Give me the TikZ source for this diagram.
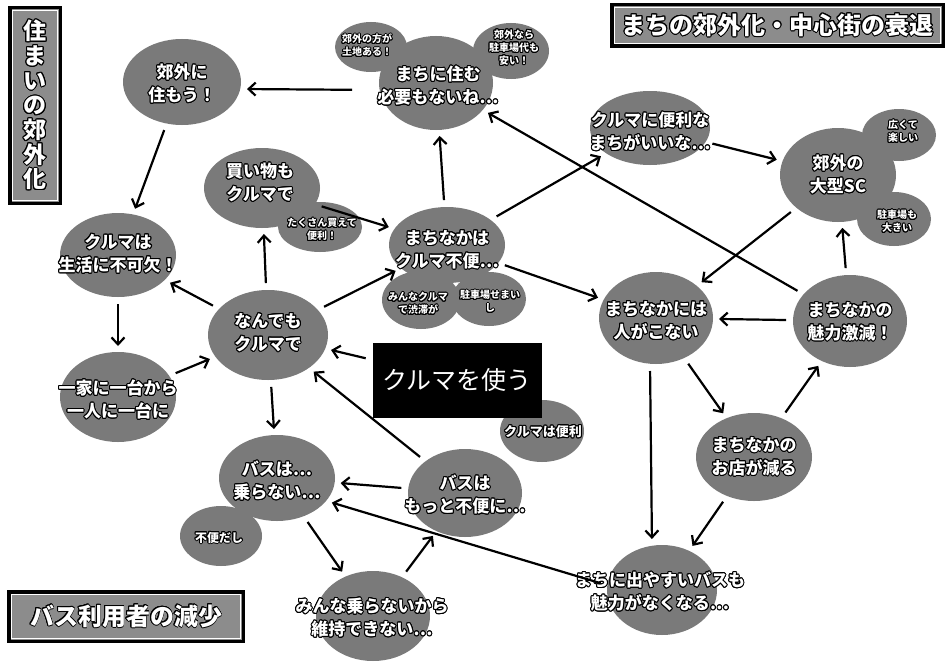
\documentclass[tikz,border=0pt]{standalone}
\usepackage{fontspec}
\setmainfont{Noto Sans CJK JP}
\usepackage{contour}
\contourlength{1pt}
\contournumber{16}
\usetikzlibrary{shapes.geometric,arrows.meta}
\newcommand\wt[1]{\contour{black}{#1}}
\begin{document}
\begin{tikzpicture}[x=1pt,y=-1pt,
  bub/.style={ellipse, fill=black!52, inner sep=0pt, outer sep=0pt},
  txt/.style={text=white, align=center, inner sep=0pt, font=\bfseries\fontsize{17}{23}\selectfont},
  stxt/.style={text=white, align=center, inner sep=0pt, font=\bfseries\fontsize{10}{13}\selectfont},
  ttl/.style={draw=black, line width=3.5pt, fill=black!45, text=white, inner sep=0pt, outer sep=0pt, align=center, font=\bfseries\fontsize{24}{25}\selectfont},
  arr/.style={-{Straight Barb[length=7pt,width=13pt]}, line width=2.2pt, shorten >=6pt, shorten <=7pt}]
\useasboundingbox[fill=white] (0,0) rectangle (947,661);

% bubbles
\node[bub, minimum width=118pt, minimum height=86pt] (e1) at (182,82) {};
\node[bub, minimum width=114pt, minimum height=94pt] (e2) at (436,83) {};
\node[bub, minimum width=72pt, minimum height=50pt] (e2a) at (371,47) {};
\node[bub, minimum width=76pt, minimum height=56pt] (e2b) at (511,51) {};
\node[bub, minimum width=116pt, minimum height=80pt] (e3) at (262,188) {};
\node[bub, minimum width=84pt, minimum height=50pt] (e3a) at (320,227) {};
\node[bub, minimum width=116pt, minimum height=76pt] (e4) at (447,245) {};
\node[bub, minimum width=78pt, minimum height=58pt] (e4a) at (421,300) {};
\node[bub, minimum width=74pt, minimum height=54pt] (e4b) at (489,299) {};
\node[bub, minimum width=120pt, minimum height=74pt] (e5) at (650,128) {};
\node[bub, minimum width=116pt, minimum height=94pt] (e6) at (838,175) {};
\node[bub, minimum width=74pt, minimum height=52pt] (e6a) at (899,135) {};
\node[bub, minimum width=74pt, minimum height=54pt] (e6b) at (894,219) {};
\node[bub, minimum width=114pt, minimum height=92pt] (e7) at (656,318) {};
\node[bub, minimum width=114pt, minimum height=92pt] (e8) at (850,321) {};
\node[bub, minimum width=116pt, minimum height=88pt] (e9) at (754,457) {};
\node[bub, minimum width=110pt, minimum height=90pt] (e10) at (662,590) {};
\node[bub, minimum width=84pt, minimum height=62pt] (e11) at (542,431) {};
\node[bub, minimum width=120pt, minimum height=90pt] (e12) at (268,335) {};
\node[bub, minimum width=116pt, minimum height=84pt] (e13) at (118,255) {};
\node[bub, minimum width=116pt, minimum height=90pt] (e14) at (118,397) {};
\node[bub, minimum width=116pt, minimum height=86pt] (e15) at (277,478) {};
\node[bub, minimum width=82pt, minimum height=60pt] (e15a) at (221,536) {};
\node[bub, minimum width=114pt, minimum height=88pt] (e16) at (465,493) {};
\node[bub, minimum width=114pt, minimum height=90pt] (e17) at (373,616) {};

% central box
\node[fill=black, text=white, minimum width=169pt, minimum height=75pt, inner sep=0pt, outer sep=0pt,
  font=\fontsize{25}{27}\selectfont] (box) at (457,380) {クルマを使う};

% titles
\node[ttl, minimum width=50.5pt, minimum height=195.5pt, font=\bfseries\fontsize{23}{24.7}\selectfont] (T1) at (35,105.5)
  {\wt{住}\\\wt{ま}\\\wt{い}\\\wt{の}\\\wt{郊}\\\wt{外}\\\wt{化}};
\node[ttl, minimum width=331.5pt, minimum height=41.5pt] (T2) at (777.5,25.5) {\wt{まちの郊外化・中心街の衰退}};
\node[ttl, minimum width=234.5pt, minimum height=49.5pt] (T3) at (126,616.5) {\wt{バス利用者の減少}};
\foreach \t in {T1,T2,T3}
  \draw[white, line width=1pt] ([xshift=2.3pt,yshift=-2.3pt]\t.north west) rectangle ([xshift=-2.3pt,yshift=2.3pt]\t.south east);

% texts
\node[txt] (t1) at (182,84) {\wt{郊外に}\\\wt{住もう！}};
\node[txt] (t2) at (438,86) {\wt{まちに住む}\\\wt{必要もないね…}};
\node[stxt] (t2a) at (367,46) {\wt{郊外の方が}\\\wt{土地ある！}};
\node[stxt] (t2b) at (514,48) {\wt{郊外なら}\\\wt{駐車場代も}\\\wt{安い！}};
\node[txt] (t3) at (260,183) {\wt{買い物も}\\\wt{クルマで}};
\node[stxt] (t3a) at (322,230) {\wt{たくさん買えて}\\\wt{便利！}};
\node[txt] (t4) at (447,250) {\wt{まちなかは}\\\wt{クルマ不便…}};
\node[stxt] (t4a) at (418,304) {\wt{みんなクルマ}\\\wt{で渋滞が}};
\node[stxt] (t4b) at (490,302) {\wt{駐車場せまい}\\\wt{し}};
\node[txt] (t5) at (650,132) {\wt{クルマに便利な}\\\wt{まちがいいな…}};
\node[txt] (t6) at (838,175) {\wt{郊外の}\\\wt{大型SC}};
\node[stxt] (t6a) at (903,132) {\wt{広くて}\\\wt{楽しい}};
\node[stxt] (t6b) at (897,222) {\wt{駐車場も}\\\wt{大きい}};
\node[txt] (t7) at (656,321) {\wt{まちなかには}\\\wt{人がこない}};
\node[txt] (t8) at (850,322) {\wt{まちなかの}\\\wt{魅力激減！}};
\node[txt] (t9) at (754,457) {\wt{まちなかの}\\\wt{お店が減る}};
\node[txt] (t10) at (660,592) {\wt{まちに出やすいバスも}\\\wt{魅力がなくなる…}};
\node[stxt, font=\bfseries\fontsize{13}{15}\selectfont] (t11) at (543,432) {\wt{クルマは便利}};
\node[txt] (t12) at (268,333) {\wt{なんでも}\\\wt{クルマで}};
\node[txt] (t13) at (118,254) {\wt{クルマは}\\\wt{生活に不可欠！}};
\node[txt] (t14) at (118,400) {\wt{一家に一台から}\\\wt{一人に一台に}};
\node[txt] (t15) at (277,481) {\wt{バスは…}\\\wt{乗らない…}};
\node[stxt, font=\bfseries\fontsize{12}{14}\selectfont] (t15a) at (219,538) {\wt{不便だし}};
\node[txt] (t16) at (465,495) {\wt{バスは}\\\wt{もっと不便に…}};
\node[txt] (t17) at (372,618) {\wt{みんな乗らないから}\\\wt{維持できない…}};

% connectors
\draw[arr, shorten <=27pt] ([yshift=-7pt]e2.west) -- ([yshift=-7pt]e1.east);
\draw[arr] (e1) -- (e13);
\draw[arr] (e13) -- (e14);
\draw[arr] (e14) -- (e12);
\draw[arr] (e12) -- (e13);
\draw[arr] (e12) -- (e3);
\draw[arr] (e3) -- (e4);
\draw[arr] (e12) -- (e4);
\draw[arr] (e4) -- (e2);
\draw[arr] (e4) -- (e5);
\draw[arr] (e4) -- (e7);
\draw[arr] (e5) -- (e6);
\draw[arr] (e6) -- (e7);
\draw[arr] (e8) -- (e2);
\draw[arr] (e8) -- (e6);
\draw[arr] (e8) -- (e7);
\draw[arr] (e7) -- (e9);
\draw[arr] (e9) -- (e8);
\draw[arr] ([xshift=-6pt]e7.south) -- ([xshift=-10pt]e10.north);
\draw[arr] (e9) -- (e10);
\draw[arr] (e10.175) -- (e15.-25);
\draw[arr] (box) -- (e12);
\draw[arr] (e16) -- (e12);
\draw[arr] (e12) -- (e15);
\draw[arr] (e16) -- (e15);
\draw[arr] (e15) -- (e17);
\draw[arr] (e17) -- (e16);
\end{tikzpicture}
\end{document}
